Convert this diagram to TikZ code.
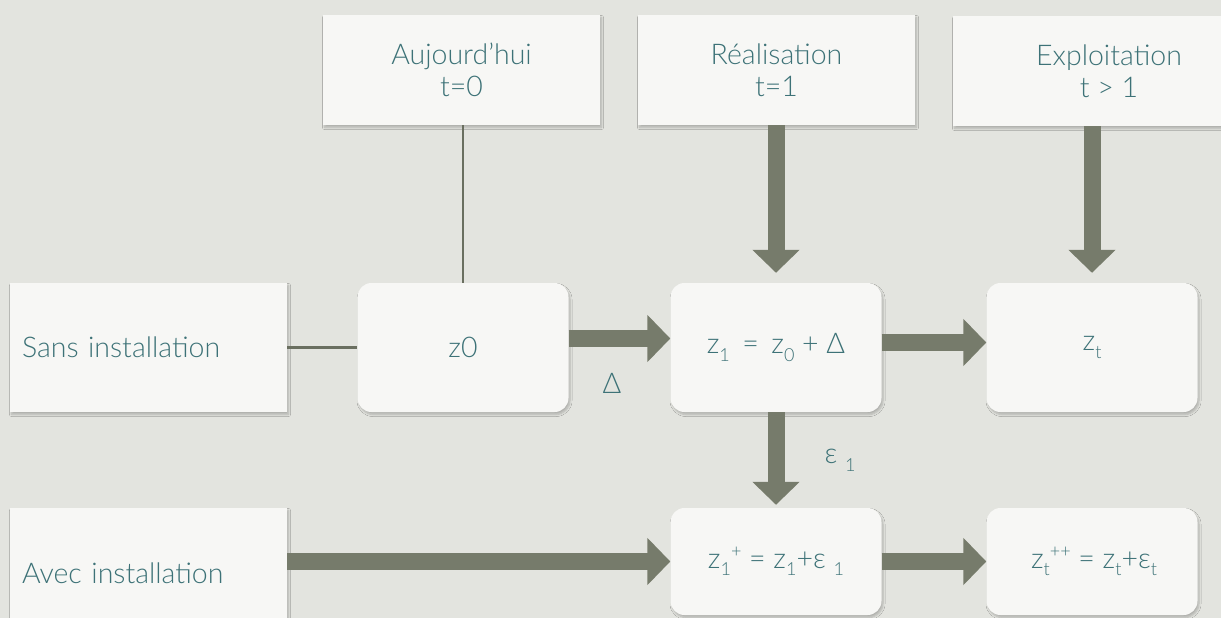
\documentclass[tikz,border=0pt]{standalone}
\usepackage{fontspec}
\setmainfont{Lato}[UprightFont={* Light}]
\usetikzlibrary{arrows.meta,shadows.blur}
\definecolor{bg}{HTML}{E3E4DF}
\definecolor{boxfill}{HTML}{F7F7F5}
\definecolor{ink}{HTML}{3D7277}
\definecolor{arrowc}{HTML}{767B6B}
% lowered / raised indices set in the running font
\newcommand\lo[1]{\raisebox{-0.55ex}{\fontsize{18}{18}\selectfont #1}}
\newcommand\hi[1]{\raisebox{0.75ex}{\fontsize{18}{18}\selectfont #1}}

\begin{document}
\begin{tikzpicture}[x=1pt,y=-1pt,
  font=\fontsize{28.5}{32}\selectfont, text=ink,
  shade/.style={blur shadow={shadow xshift=1.5pt, shadow yshift=-2.5pt,
      shadow opacity=22, shadow blur steps=6, shadow blur radius=2pt}},
  card/.style={shade, fill=boxfill, draw=none, inner sep=0pt,
      minimum width=277pt, minimum height=110pt, align=center},
  side/.style={shade, fill=boxfill, draw=none, inner xsep=12pt, inner ysep=0pt,
      text width=253pt, align=left, minimum height=129pt},
  state/.style={shade, fill=boxfill, draw=none, rounded corners=14pt,
      inner sep=0pt, minimum width=211pt, minimum height=129pt},
  fat/.style={draw=arrowc, line width=17pt,
      -{Triangle[width=46pt,length=23pt]}},
  thin/.style={draw=arrowc!90!black, line width=2.5pt},
  lbl/.style={inner sep=0pt}
]
\clip (0,0) rectangle (1221,618);
\fill[bg] (0,0) rectangle (1221,618);

% time headers
\node[card] (t0) at (461.5,70) {Aujourd'hui\\t=0};
\node[card] (t1) at (776.5,70) {Réalisation\\t=1};
\node[card, minimum width=312pt] (t2) at (1109,71) {Exploitation\\t > 1};

% row headers
\node[side] (sans) at (148.5,347.5) {Sans installation};
\node[side, minimum height=130pt] (avec) at (148.5,573) {Avec installation};

% states
\node[state] (z0) at (463,347.5) {z0};
\node[state] (z1) at (776,347.5) {z\lo{1} \,=\, z\lo{0} + Δ};
\node[state] (zt) at (1092,347.5) {z\lo{t}};
\node[state, minimum height=107pt] (z1p) at (776,561.5) {z\lo{1}\hi{+} = z\lo{1}+ε \lo{1}};
\node[state, minimum height=107pt] (ztp) at (1092,561.5) {\hspace{4pt}z\lo{t}\hi{++} = z\lo{t}+ε\lo{t}};

% connectors
\draw[thin] (t0.south -| z0.north) -- (z0.north);
\draw[thin] (sans.east) -- (z0.west);
\draw[fat, shorten >=10pt] (t1.south -| z1.north) -- (z1.north);
\draw[fat, shorten >=10pt] (t2.south -| zt.north) -- (zt.north);
\draw[fat] ([yshift=9pt]z0.east) -- ([yshift=9pt]z1.west);
\draw[fat] ([yshift=5pt]z1.east) -- ([yshift=5pt]zt.west);
\draw[fat, shorten >=3pt] (z1.south) -- (z1p.north);
\draw[fat] (avec.east |- z1p.west) -- (z1p.west);
\draw[fat] (z1p.east) -- (ztp.west);

% arrow labels
\node[lbl] (dl) at (612,383) {Δ};
\node[lbl] (el) at (840,460) {ε \lo{1}};
\end{tikzpicture}
\end{document}
